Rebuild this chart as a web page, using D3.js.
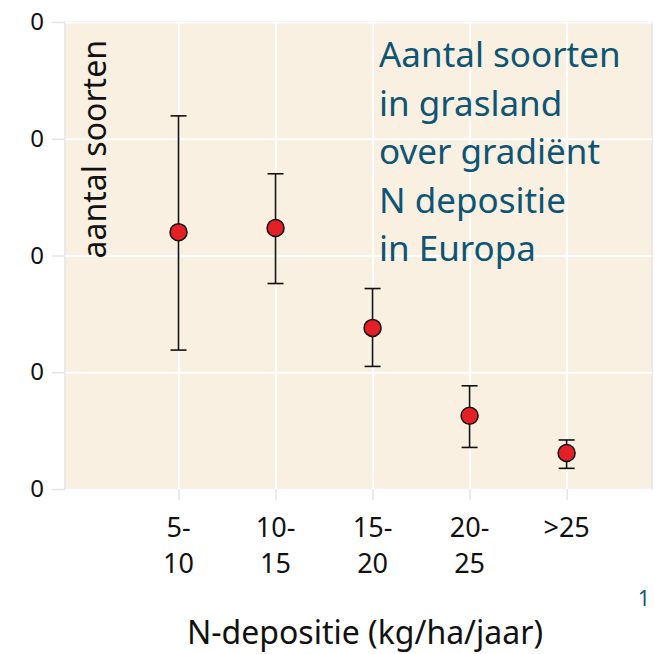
<!DOCTYPE html>
<html>
<head>
<meta charset="utf-8">
<script src="https://cdn.jsdelivr.net/npm/d3@7"></script>
<style>
  html, body { margin: 0; padding: 0; background: #fff; }
  svg { display: block; }
</style>
</head>
<body>
<div id="chart"></div>
<script>
// ── Data ────────────────────────────────────────────────────────────────
const categories = ["5-10", "10-15", "15-20", "20-25", ">25"];
const catLines   = [["5-", "10"], ["10-", "15"], ["15-", "20"], ["20-", "25"], [">25"]];
const means      = [22.0, 22.35, 13.8, 6.27, 3.08];
const upper      = [31.96, 27.0, 17.17, 8.84, 4.2];
const lower      = [11.9, 17.6, 10.5, 3.56, 1.77];
const yTicks     = [0, 10, 20, 30, 40];
const yTickLabels = ["0", "0", "0", "0", "0"];
const titleLines = ["Aantal soorten", "in grasland", "over gradiënt", "N depositie", "in Europa"];

// ── Palette ─────────────────────────────────────────────────────────────
const PANEL = "#f9f0e1";
const GRID  = "#ffffff";
const EDGE  = "#e4e4e4";
const TEAL  = "#0e5575";
const DOT   = "#e41f26";
const FONT  = "'Noto Sans', 'Open Sans', sans-serif";

const W = 655, H = 654;
const margin = { top: 22, right: 3, bottom: 165, left: 65 };
const width  = W - margin.left - margin.right;
const height = H - margin.top - margin.bottom;

const svg = d3.select("#chart").append("svg")
  .attr("width", W).attr("height", H);

const g = svg.append("g").attr("transform", `translate(${margin.left},${margin.top})`);

const x = d3.scaleLinear().domain([-1.17, 4.88]).range([0, width]);
const y = d3.scaleLinear().domain([0, 40]).range([height, 0]);

// Panel
g.append("rect")
  .attr("width", width).attr("height", height)
  .attr("fill", PANEL).attr("stroke", EDGE).attr("stroke-width", 1.5);

// Grid
g.append("g")
  .call(d3.axisLeft(y).tickValues(yTicks).tickSize(-width).tickFormat(""))
  .call(s => s.select(".domain").remove())
  .selectAll("line").attr("stroke", GRID).attr("stroke-width", 2);
g.append("g").attr("transform", `translate(0,${height})`)
  .call(d3.axisBottom(x).tickValues(d3.range(categories.length)).tickSize(-height).tickFormat(""))
  .call(s => s.select(".domain").remove())
  .selectAll("line").attr("stroke", GRID).attr("stroke-width", 2);

// Outer ticks
const yAxis = g.append("g")
  .call(d3.axisLeft(y).tickValues(yTicks).tickSize(13).tickPadding(8)
    .tickFormat((d, i) => yTickLabels[i]));
yAxis.select(".domain").remove();
yAxis.selectAll("line").attr("stroke", EDGE).attr("stroke-width", 1.5);
yAxis.selectAll("text").attr("fill", "#111").style("font-family", FONT).style("font-size", "24px");

const xAxis = g.append("g").attr("transform", `translate(0,${height})`)
  .call(d3.axisBottom(x).tickValues(d3.range(categories.length)).tickSize(11).tickFormat(""));
xAxis.select(".domain").remove();
xAxis.selectAll("line").attr("stroke", EDGE).attr("stroke-width", 1.5);

// X tick labels (two lines, one text per line)
const xl = g.append("g").selectAll("g").data(catLines).enter().append("g")
  .attr("transform", (d, i) => `translate(${x(i)},${height + 48})`);
xl.selectAll("text").data(d => d).enter().append("text")
  .attr("y", (d, i) => i * 36)
  .attr("text-anchor", "middle")
  .attr("fill", "#111").style("font-family", FONT).style("font-size", "27px")
  .text(d => d);

// Error bars
const bars = g.append("g").selectAll("g").data(categories).enter().append("g");
bars.append("line")
  .attr("x1", (d, i) => x(i)).attr("x2", (d, i) => x(i))
  .attr("y1", (d, i) => y(upper[i])).attr("y2", (d, i) => y(lower[i]))
  .attr("stroke", "#111").attr("stroke-width", 1.6);
[upper, lower].forEach(arr => {
  bars.append("line")
    .attr("x1", (d, i) => x(i) - 8).attr("x2", (d, i) => x(i) + 8)
    .attr("y1", (d, i) => y(arr[i])).attr("y2", (d, i) => y(arr[i]))
    .attr("stroke", "#111").attr("stroke-width", 1.6);
});

// Points
g.append("g").selectAll("circle").data(means).enter().append("circle")
  .attr("cx", (d, i) => x(i)).attr("cy", d => y(d))
  .attr("r", 8.5)
  .attr("fill", DOT).attr("stroke", "#111").attr("stroke-width", 1.5);

// Title block
g.append("text")
  .attr("x", 314).attr("y", 45)
  .attr("fill", TEAL).style("font-family", FONT).style("font-size", "35px")
  .selectAll("tspan").data(titleLines).enter().append("tspan")
  .attr("x", 314).attr("dy", (d, i) => i === 0 ? 0 : 48.5)
  .text(d => d);

// Y axis title
g.append("text")
  .attr("transform", "rotate(-90)")
  .attr("x", -18).attr("y", 41)
  .attr("text-anchor", "end")
  .attr("fill", "#111").style("font-family", FONT).style("font-size", "32px")
  .text("aantal soorten");

// X axis title
svg.append("text")
  .attr("x", 365).attr("y", 644)
  .attr("text-anchor", "middle")
  .attr("fill", "#111").style("font-family", FONT).style("font-size", "32px")
  .text("N-depositie (kg/ha/jaar)");

// Page number
svg.append("text")
  .attr("x", 650).attr("y", 606)
  .attr("text-anchor", "end")
  .attr("fill", TEAL).style("font-family", FONT).style("font-size", "21px")
  .text("1");
</script>
</body>
</html>
